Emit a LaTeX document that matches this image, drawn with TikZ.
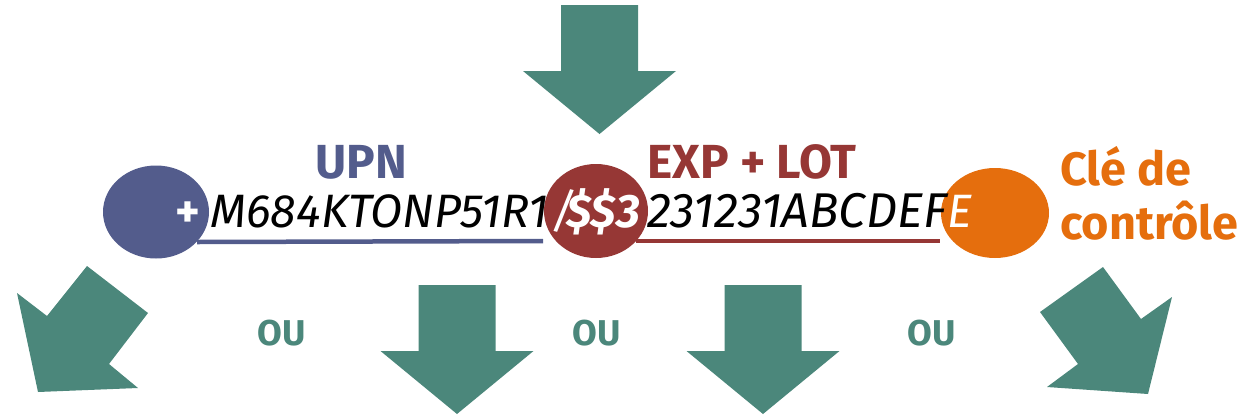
\documentclass[tikz,border=0pt]{standalone}
\usepackage{fontspec}
\setmainfont{Fira Sans}
\usetikzlibrary{shapes.geometric,calc,positioning}
\definecolor{arrowteal}{HTML}{4B877B}
\definecolor{upnblue}{HTML}{535C8C}
\definecolor{lotred}{HTML}{963735}
\definecolor{keyorange}{HTML}{E56E0D}

\begin{document}
\begin{tikzpicture}[x=1bp, y=-1bp,
  blob/.style={ellipse, inner sep=0pt, minimum width=106bp, minimum height=93bp},
  title/.style={font=\fontsize{48}{52}\selectfont\bfseries, inner sep=0pt},
  code/.style={font=\fontsize{47}{50}\selectfont\itshape, inner sep=0pt, anchor=base west},
  orlabel/.style={font=\fontsize{36}{40}\selectfont\bfseries, text=arrowteal, inner sep=0pt},
  under/.style={line width=4.5bp},
  bigarrow/.style={fill=arrowteal}
]
\useasboundingbox (0,0) rectangle (1245,415);

% straight block arrows
\foreach \cx/\ty in {599.5/5, 457/285, 763/285}
  \fill[bigarrow] (\cx-38.5,\ty) -- ++(77,0) -- ++(0,66) -- ++(38,0)
    -- (\cx,\ty+129) -- (\cx-76.5,\ty+66) -- ++(38,0) -- cycle;

% tilted block arrows
\fill[bigarrow] (87,266) -- (148,313) -- (109,364) -- (138,388)
  -- (38,392) -- (17,293) -- (47,316) -- cycle;
\fill[bigarrow] (1040,312) -- (1103,267) -- (1141,319) -- (1172,297)
  -- (1148,394) -- (1047,387) -- (1078,364) -- cycle;

% parts of the code
\node[blob, fill=upnblue] (upnblob) at (156,212) {};
\node[blob, fill=lotred, minimum width=104bp, minimum height=94bp] (lotblob) at (596,211) {};
\node[blob, fill=keyorange, minimum width=108bp, minimum height=90bp] (keyblob) at (995,213) {};

\draw[under, upnblue] ($(upnblob.center)+(41,30)$) -- ($(lotblob.center)+(-53,30)$);
\draw[under, lotred] ($(lotblob.center)+(40,30)$) -- ($(keyblob.center)+(-55,28)$);

\node[title, text=upnblue, anchor=base] (upn) at (361,178) {UPN};
\node[title, text=lotred, anchor=base] (lot) at (752,178) {EXP + LOT};
\node[title, text=keyorange, align=left, anchor=north west,
  font=\fontsize{47}{54}\selectfont\bfseries] (key) at (1060,146) {Clé de\\contrôle};

\node[code, font=\fontsize{47}{50}\selectfont\bfseries, text=white] (plus) at (175,227) {+};
\node[code] (upncode) at (210,227) {M684KTONP51R1};
\node[code, text=white] (slash) at (551,227) {/};
\node[code, font=\fontsize{47}{50}\selectfont\bfseries\itshape, text=white] (lotsep) at (566,227) {\$\$3};
\node[code, font=\fontsize{49}{52}\selectfont\itshape] (lotcode) at (647,227) {231231ABCDEF};
\node[code, text=white] (keychar) at (947,227) {E};

\node[orlabel] (or1) at (282,333) {OU};
\node[orlabel] (or2) at (597,333) {OU};
\node[orlabel] (or3) at (932,333) {OU};
\end{tikzpicture}
\end{document}
